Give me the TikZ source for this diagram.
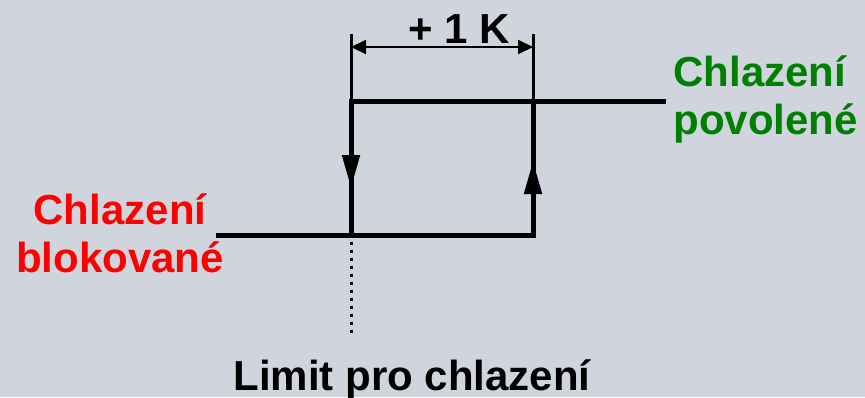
\documentclass[tikz,border=0pt]{standalone}
\usepackage{fontspec}
\setmainfont{Liberation Sans}
\usepackage{tikz}
\usetikzlibrary{arrows.meta}

\definecolor{bgcol}{RGB}{208,212,220}
\definecolor{offred}{RGB}{255,0,0}
\definecolor{ongreen}{RGB}{0,128,0}

\begin{document}
\begin{tikzpicture}[x=0.02cm, y=-0.02cm,
    hyst/.style={line width=0.1cm},
    tip/.style={-{Triangle[length=0.66cm, width=0.34cm]}},
    dimline/.style={line width=0.04cm, {Triangle[length=0.3cm, width=0.28cm]}-{Triangle[length=0.3cm, width=0.28cm]}},
    txt/.style={font=\fontsize{23.9pt}{26.8pt}\selectfont\bfseries, inner sep=0pt}]

    % background
    \fill[bgcol] (0,0) rectangle (865,397);
    \useasboundingbox (0,0) rectangle (865,397);

    % corners of the loop
    \coordinate (offL) at (216,235);
    \coordinate (limB) at (351,235);
    \coordinate (limT) at (351,101);
    \coordinate (lowR) at (533,235);
    \coordinate (upR)  at (533,101);
    \coordinate (onE)  at (666,101);
    \coordinate (downTip) at (351,188);
    \coordinate (upTip)   at (533,161);
    \coordinate (dotE) at (351,334);

    % loop
    \draw[hyst] (offL) -- (lowR) -- (upR);
    \draw[hyst, tip] (lowR) -- (upTip);
    \draw[hyst] (onE) -- (limT) -- (limB);
    \draw[hyst, tip] (limT) -- (downTip);
    \draw[line width=0.06cm, dash pattern=on 0.06cm off 0.1cm] (limB) ++(0,7) -- (dotE);

    % +1 K span
    \coordinate (extL) at (351,34);
    \coordinate (extR) at (533,34);
    \coordinate (dimL) at (351,47);
    \coordinate (dimR) at (533,47);
    \draw[line width=0.06cm] (extL) -- (limT);
    \draw[line width=0.06cm] (extR) -- (upR);
    \draw[dimline] (dimL) -- (dimR);

    % labels
    \node[txt, anchor=base] (span) at (459,43) {+ 1 K};
    \node[txt, anchor=base, text=offred, align=center] (off) at (120,272) {Chlazení\\blokované};
    \node[txt, anchor=base west, text=ongreen, align=left] (on) at (673,134) {Chlazení\\povolené};
    \node[txt, anchor=base] (limit) at (412,390) {Limit pro chlazení};

\end{tikzpicture}
\end{document}
